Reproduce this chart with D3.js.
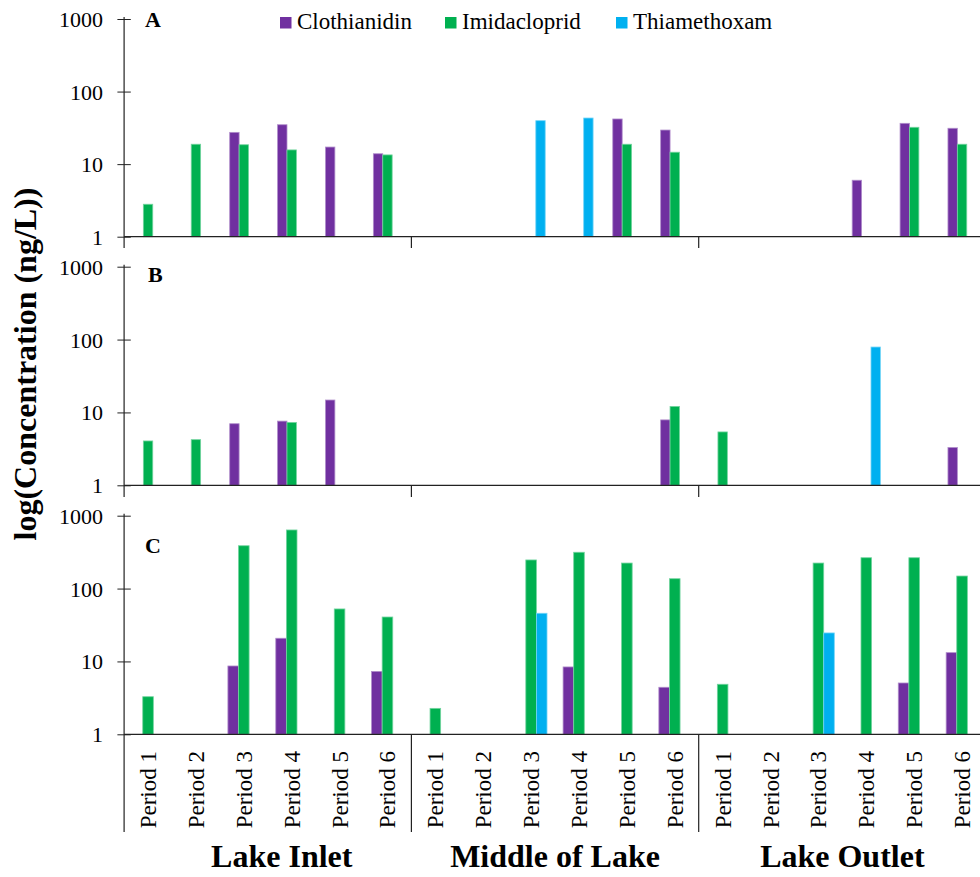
<!DOCTYPE html>
<html>
<head>
<meta charset="utf-8">
<script src="https://cdn.jsdelivr.net/npm/d3@7"></script>
<style>
  body { margin: 0; background: #fff; }
  svg, svg text { font-family: "Liberation Serif", "Times New Roman", Times, serif !important; fill: #000; }
</style>
</head>
<body>
<div id="chart"></div>
<script>
const locations = ["Lake Inlet", "Middle of Lake", "Lake Outlet"];
const periods = ["Period 1", "Period 2", "Period 3", "Period 4", "Period 5", "Period 6"];
const compounds = ["Clothianidin", "Imidacloprid", "Thiamethoxam"];
const colors = ["#7030A0", "#00B050", "#00B0F0"];
const tickValues = [1, 10, 100, 1000];

// ng/L, 18 values each: inlet P1-6, middle P1-6, outlet P1-6 (null = nothing drawn)
const clothianidinA = [null, null, 27.4, 34.9, 17.2, 13.9,  null, null, null, null, 41.9, 29.5,  null, null, null, 6.0, 36.5, 31.2];
const imidaclopridA = [2.8, 18.8, 18.5, 15.7, null, 13.4,  null, null, null, null, 18.8, 14.6,  null, null, null, null, 32.2, 18.8];
const thiamethoxamA = [null, null, null, null, null, null,  null, null, 39.7, 43.2, null, null,  null, null, null, null, null, null];

const clothianidinB = [null, null, 7.0, 7.6, 14.8, null,  null, null, null, null, null, 7.9,  null, null, null, null, null, 3.3];
const imidaclopridB = [4.06, 4.23, null, 7.3, null, null,  null, null, null, null, null, 12.1,  5.4, null, null, null, null, null];
const thiamethoxamB = [null, null, null, null, null, null,  null, null, null, null, null, null,  null, null, null, 79, null, null];

const clothianidinC = [null, null, 8.66, 20.8, null, 7.3,  null, null, null, 8.4, null, 4.42,  null, null, null, null, 5.06, 13.2];
const imidaclopridC = [3.28, null, 387, 637, 52.5, 40.7,  2.27, null, 247, 315, 224, 136.5,  4.86, null, 224, 265, 265, 148.6];
const thiamethoxamC = [null, null, null, null, null, null,  null, null, 45.8, null, null, null,  null, null, 24.6, null, null, null];

const width = 980;
const height = 877;
const xLeft = 124.1;
const xRight = 986;
const serif = "'Liberation Serif', 'Times New Roman', Times, serif";

const svg = d3
  .select("#chart")
  .append("svg")
  .attr("width", width)
  .attr("height", height)
  .style("font-family", serif);

const categories = locations.flatMap((l) => periods.map((p) => l + "|" + p));

const x0 = d3.scaleBand().domain(categories).range([xLeft, xRight]);
const center = (c) => x0(c) + x0.bandwidth() / 2;

const panels = [
  { id: "A", top: 19, bottom: 236.7, barW: 9.4, lx: 145, ly: 27, series: [clothianidinA, imidaclopridA, thiamethoxamA], axisEnd: 248 },
  { id: "B", top: 266.7, bottom: 485.3, barW: 9.4, lx: 148, ly: 282, series: [clothianidinB, imidaclopridB, thiamethoxamB], axisEnd: 497 },
  { id: "C", top: 515.7, bottom: 734.3, barW: 10.6, lx: 145, ly: 553, series: [clothianidinC, imidaclopridC, thiamethoxamC], axisEnd: 832 },
];

panels.forEach((p) => {
  const y = d3.scaleLog().domain([1, 1000]).range([p.bottom, p.top]);
  const x1 = d3
    .scaleBand()
    .domain(compounds)
    .range([-1.5 * p.barW, 1.5 * p.barW]);

  const g = svg.append("g").attr("class", "panel-" + p.id);

  // bars
  compounds.forEach((name, i) => {
    const rows = categories
      .map((c, j) => ({ cat: c, value: p.series[i][j] }))
      .filter((d) => d.value != null);
    g.append("g")
      .selectAll("rect")
      .data(rows)
      .enter()
      .append("rect")
      .attr("x", (d) => center(d.cat) + x1(name))
      .attr("y", (d) => y(d.value))
      .attr("width", x1.bandwidth())
      .attr("height", (d) => y(1) - y(d.value))
      .attr("fill", colors[i])
      .attr("stroke", d3.interpolateRgb(colors[i], "#fff")(0.45))
      .attr("stroke-width", 0.8);
  });

  // y axis
  const axis = g
    .append("g")
    .attr("transform", `translate(${xLeft},0)`)
    .call(
      d3
        .axisLeft(y)
        .tickValues(tickValues)
        .tickFormat(d3.format("d"))
        .tickSize(7)
        .tickPadding(14)
    );
  axis.attr("font-family", null);
  axis.select(".domain").remove();
  axis.selectAll(".tick line").attr("x1", 6.7).attr("x2", -6.7).attr("stroke", "#222");
  axis
    .selectAll(".tick text")
    .style("font-family", serif)
    .attr("font-size", 22)
    .attr("dy", "0.34em");

  g.append("line")
    .attr("x1", xLeft)
    .attr("x2", xLeft)
    .attr("y1", p.top - 2)
    .attr("y2", p.axisEnd)
    .attr("stroke", "#222")
    .attr("stroke-width", 1.2);

  // baseline
  g.append("line")
    .attr("x1", xLeft)
    .attr("x2", width)
    .attr("y1", y(1))
    .attr("y2", y(1))
    .attr("stroke", "#222")
    .attr("stroke-width", 1.2);

  // site separators
  [6, 12].forEach((k) => {
    g.append("line")
      .attr("x1", x0(categories[k]))
      .attr("x2", x0(categories[k]))
      .attr("y1", y(1))
      .attr("y2", p.axisEnd)
      .attr("stroke", "#222")
      .attr("stroke-width", 1.2);
  });

  g.append("text")
    .attr("x", p.lx)
    .attr("y", p.ly)
    .attr("font-weight", "bold")
    .attr("font-size", 22)
    .text(p.id);
});

// period labels under the bottom panel
svg
  .append("g")
  .selectAll("text")
  .data(categories)
  .enter()
  .append("text")
  .attr("transform", (d) => `translate(${center(d) + 8},751) rotate(-90)`)
  .attr("text-anchor", "end")
  .attr("font-size", 23)
  .text((d) => d.split("|")[1]);

// site labels (the first one sits a bit right of its group in the original)
const siteShift = [14, 0, 0];
svg
  .append("g")
  .selectAll("text")
  .data(locations)
  .enter()
  .append("text")
  .attr("x", (d, i) => (x0(d + "|" + periods[0]) + x0(d + "|" + periods[5]) + x0.bandwidth()) / 2 + siteShift[i])
  .attr("y", 867)
  .attr("text-anchor", "middle")
  .attr("font-weight", "bold")
  .attr("font-size", 32)
  .text((d) => d);

// y title
svg
  .append("text")
  .attr("transform", "translate(36,364) rotate(-90)")
  .attr("text-anchor", "middle")
  .attr("font-weight", "bold")
  .attr("font-size", 32)
  .text("log(Concentration (ng/L))");

// legend
const legendX = [280, 445, 616];
const legend = svg
  .append("g")
  .selectAll("g")
  .data(compounds)
  .enter()
  .append("g")
  .attr("transform", (d, i) => `translate(${legendX[i]},17)`);

legend
  .append("rect")
  .attr("width", 11.5)
  .attr("height", 11.5)
  .attr("fill", (d, i) => colors[i]);

legend
  .append("text")
  .attr("x", 17)
  .attr("y", 11.5)
  .attr("font-size", 23)
  .text((d) => d);
</script>
</body>
</html>
